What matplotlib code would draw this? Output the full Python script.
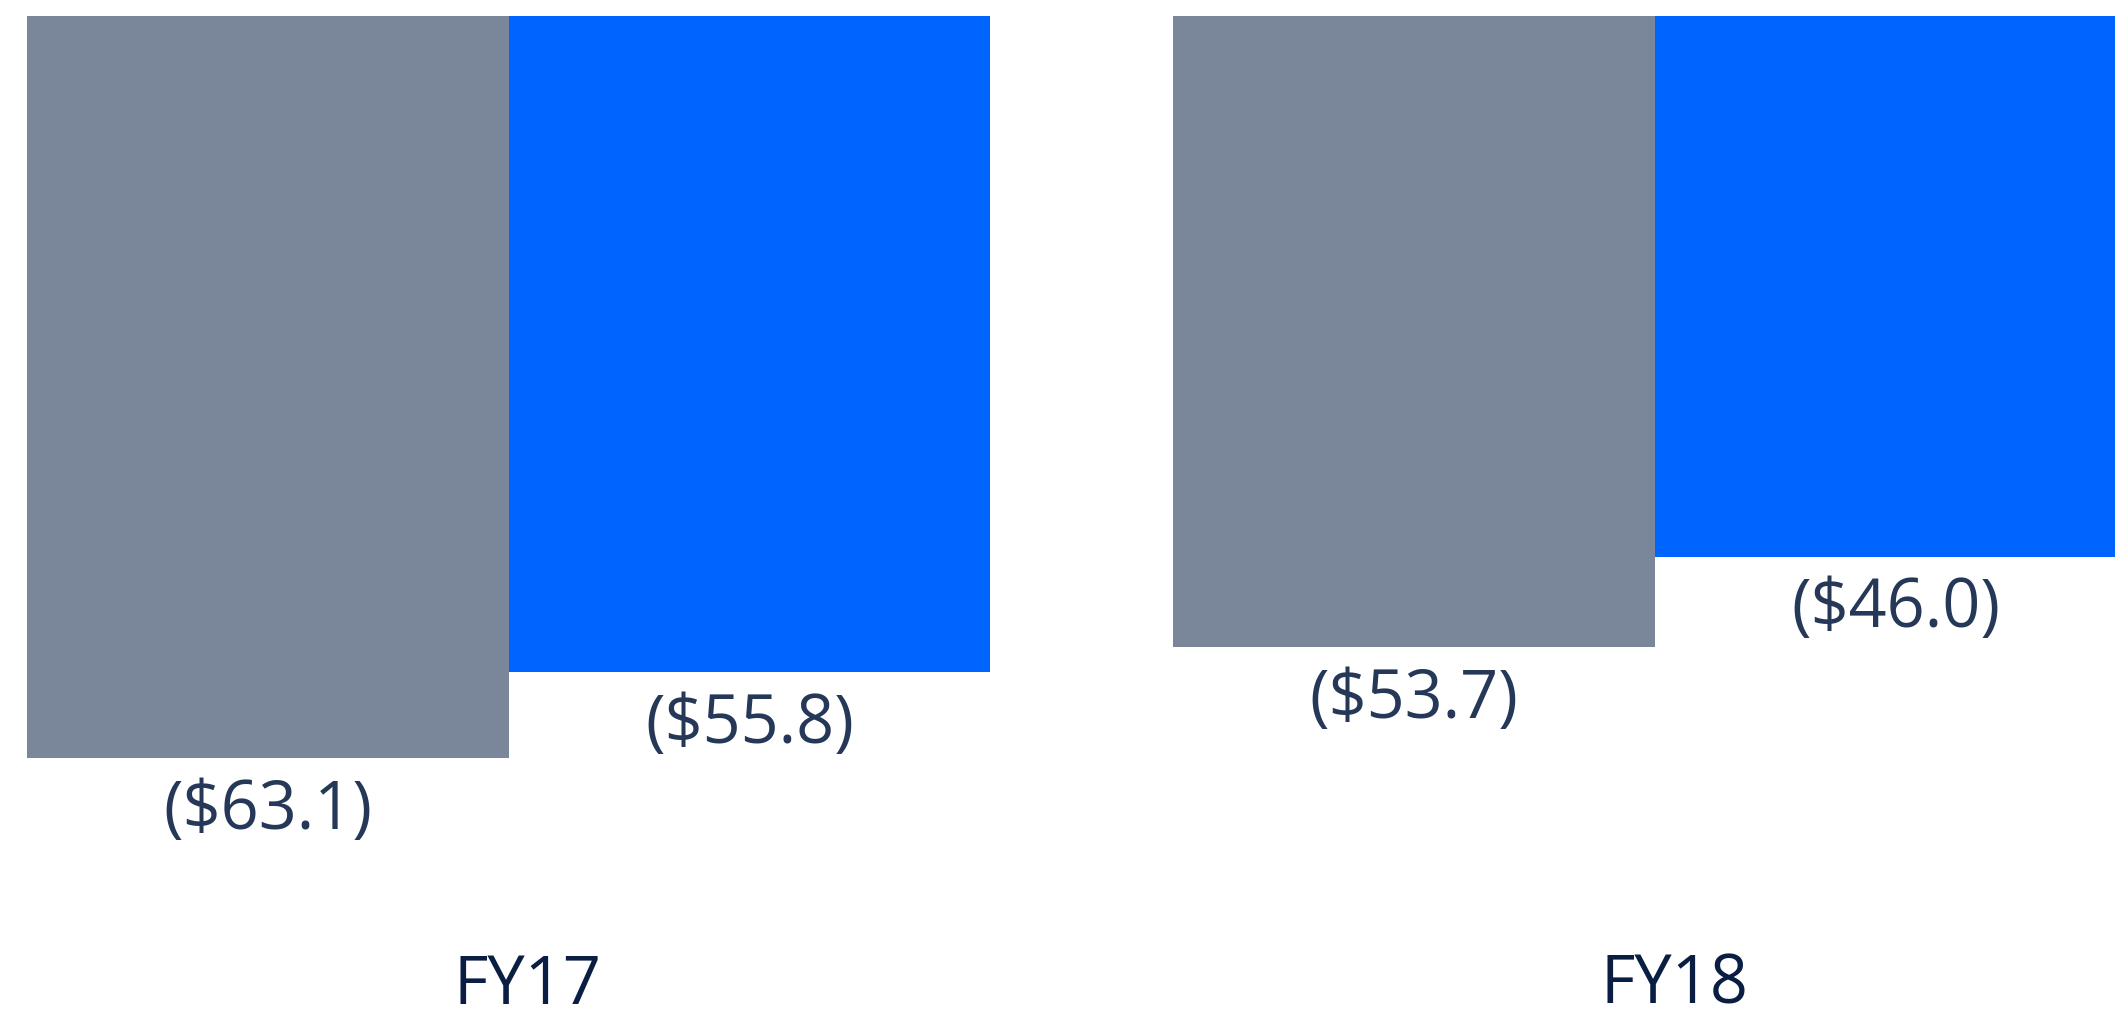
import numpy as np
import matplotlib.pyplot as plt

# datos del grafico
periodos = ['FY17', 'FY18']
serie_gris = [-63.1, -53.7]
serie_azul = [-55.8, -46.0]

color_gris = '#7A869A'
color_azul = '#0065FF'
color_valor = '#253858'
color_periodo = '#091E42'

plt.rcParams['font.family'] = ['Open Sans', 'DejaVu Sans']

fig = plt.figure(figsize=(21.15, 10.2), dpi=100)
# el eje sigue un poco mas alla del borde derecho, como en la original
ax = fig.add_axes([0.01277, 0.0, 0.9974, 0.9838])

ancho = 1.0
centros = np.array([0.0, 2.38])
x_gris = centros - ancho / 2
x_azul = centros + ancho / 2

barras_gris = ax.bar(x_gris, serie_gris, width=ancho, color=color_gris, linewidth=0)
barras_azul = ax.bar(x_azul, serie_azul, width=ancho, color=color_azul, linewidth=0)

# etiquetas de valor debajo de cada barra
def etiqueta(v):
    return f'(${abs(v):.1f})'

for barras, valores in [(barras_gris, serie_gris), (barras_azul, serie_azul)]:
    for b, v in zip(barras, valores):
        ax.annotate(etiqueta(v), xy=(b.get_x() + b.get_width() / 2, v),
                    xytext=(0, -52), textcoords='offset pixels',
                    ha='center', va='center', fontsize=48, color=color_valor)

ax.set_xlim(-1, 3.38)
ax.set_ylim(-85.3, 0)

# etiquetas de periodo
for c, p in zip(centros, periodos):
    ax.text(c + 0.04, -82.4, p, ha='center', va='center', fontsize=48, color=color_periodo)

ax.axis('off')

fig.savefig('out.png', dpi=100)
